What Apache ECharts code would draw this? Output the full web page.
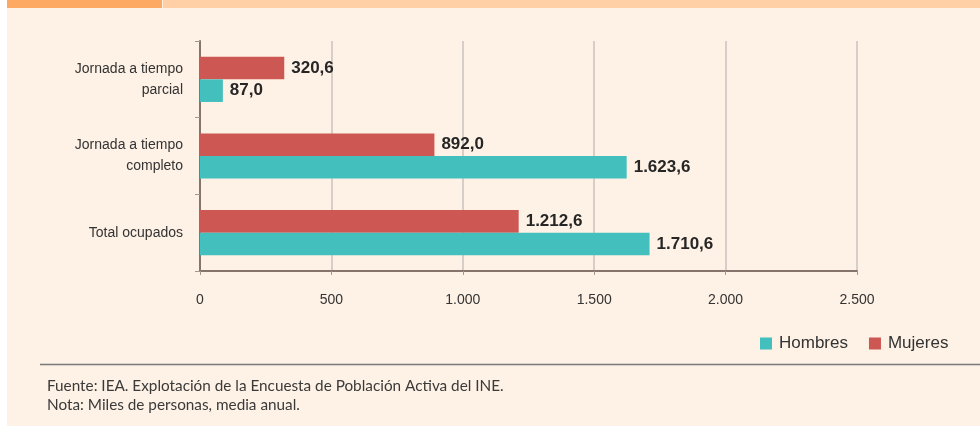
<!DOCTYPE html>
<html>
<head>
<meta charset="utf-8">
<script src="https://cdn.jsdelivr.net/npm/echarts@6/dist/echarts.min.js"></script>
<style>
  html, body { margin: 0; padding: 0; background: #ffffff; }
  #chart { width: 980px; height: 426px; }
</style>
</head>
<body>
<div id="chart"></div>
<script>
// categories bottom-to-top (category axis starts at the bottom)
const categories = ['Total ocupados', 'Jornada a tiempo\ncompleto', 'Jornada a tiempo\nparcial'];
const hombres = [1710.6, 1623.6, 87.0];
const mujeres = [1212.6, 892.0, 320.6];
const xTicks = [0, 500, 1000, 1500, 2000, 2500];

// spanish number style: 1.623,6
const fmtNum = (v, dec) => {
  const parts = v.toFixed(dec).split('.');
  const intPart = parts[0].replace(/\B(?=(\d{3})+(?!\d))/g, '.');
  return parts.length > 1 ? intPart + ',' + parts[1] : intPart;
};

const FONT = '"Liberation Sans", Arial, sans-serif';
const chart = echarts.init(document.getElementById('chart'));

const labelStyle = {
  show: true,
  position: 'right',
  distance: 7,
  fontFamily: FONT,
  fontSize: 17,
  fontWeight: 'bold',
  color: '#262626',
  formatter: p => fmtNum(p.value, 1)
};

chart.setOption({
  animation: false,
  textStyle: { fontFamily: FONT },
  graphic: [
    { type: 'rect', shape: { x: 7, y: 0, width: 973, height: 426 }, style: { fill: '#fef1e5' }, z: -10 },
    { type: 'rect', shape: { x: 7, y: 0, width: 155, height: 8 }, style: { fill: '#fda963' }, z: -9 },
    { type: 'rect', shape: { x: 163, y: 0, width: 817, height: 8 }, style: { fill: '#ffcfa6' }, z: -9 },
    { type: 'line', shape: { x1: 40, y1: 364.5, x2: 980, y2: 364.5 }, style: { stroke: '#7a7a7a', lineWidth: 1.5 } },
    {
      type: 'text', left: 47, top: 379,
      style: { text: 'Fuente: IEA. Explotación de la Encuesta de Población Activa del INE.', font: '15.3px Lato, sans-serif', fill: '#3a3a3a' }
    },
    {
      type: 'text', left: 47, top: 398,
      style: { text: 'Nota: Miles de personas, media anual.', font: '15.3px Lato, sans-serif', fill: '#3a3a3a' }
    }
  ],
  legend: {
    data: ['Hombres', 'Mujeres'],
    left: 755,
    top: 330,
    icon: 'rect',
    itemWidth: 12,
    itemHeight: 12,
    itemGap: 21,
    textStyle: { fontFamily: FONT, fontSize: 17, color: '#333333', padding: [0, 0, 0, 2] }
  },
  grid: { left: 200, right: 123, top: 41, bottom: 155, containLabel: false },
  xAxis: {
    type: 'value',
    min: xTicks[0],
    max: xTicks[xTicks.length - 1],
    interval: 500,
    axisLine: { show: true, lineStyle: { color: '#85756b', width: 2 } },
    axisTick: { show: true, length: 4, lineStyle: { color: '#a09890' } },
    splitLine: { show: true, lineStyle: { color: '#c9c2bc', width: 1.5 } },
    axisLabel: { margin: 22, fontFamily: FONT, fontSize: 14, color: '#333333', formatter: v => fmtNum(v, 0) }
  },
  yAxis: {
    type: 'category',
    data: categories,
    axisLine: { show: true, lineStyle: { color: '#85756b', width: 2 } },
    axisTick: { show: true, length: 5, lineStyle: { color: '#a09890' } },
    axisLabel: { margin: 17, fontFamily: FONT, fontSize: 14, color: '#333333', lineHeight: 21, align: 'right' }
  },
  series: [
    {
      name: 'Mujeres', type: 'bar', data: mujeres,
      itemStyle: { color: '#cd5752' },
      barGap: '0%', barCategoryGap: '41%',
      label: labelStyle
    },
    {
      name: 'Hombres', type: 'bar', data: hombres,
      itemStyle: { color: '#43bfbd' },
      barGap: '0%', barCategoryGap: '41%',
      label: labelStyle
    }
  ]
});
</script>
</body>
</html>
